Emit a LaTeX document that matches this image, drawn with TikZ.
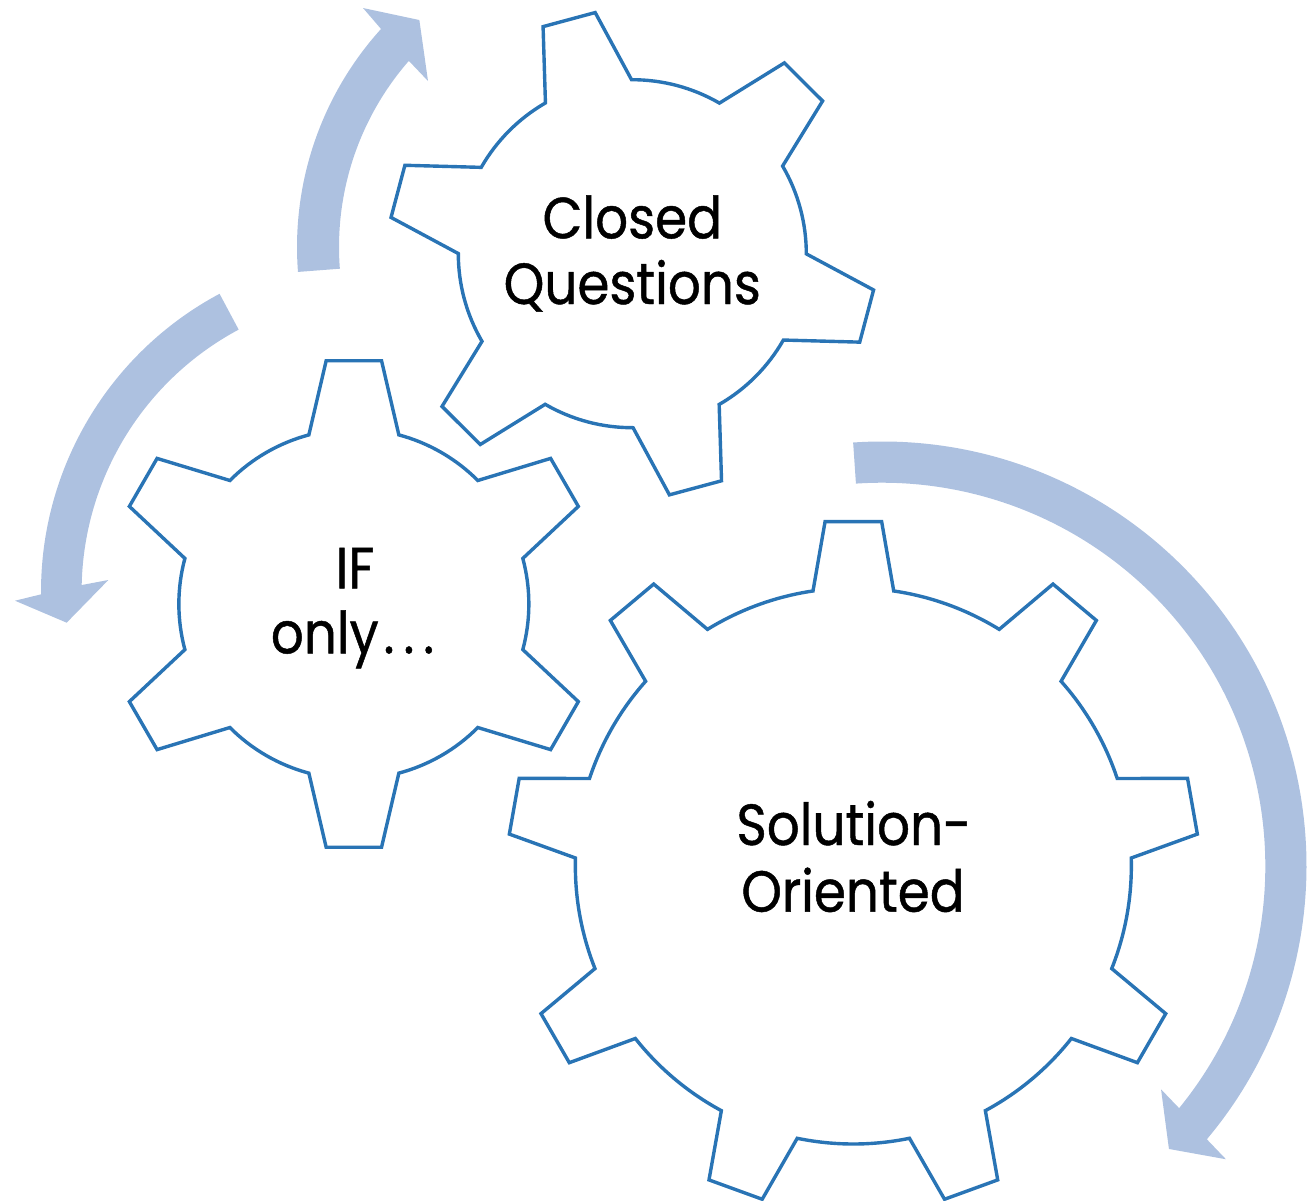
\documentclass[tikz,border=0pt]{standalone}
\usepackage{fontspec}
\newfontfamily\gearfont[FakeStretch=0.89, FakeBold=0.8]{Poppins}
\definecolor{gearblue}{RGB}{41,116,181}
\definecolor{arrowfill}{RGB}{173,193,224}

% cx, cy, teeth, first tooth angle, tip radius, root radius, tip half-angle, root half-angle
\newcommand{\GearOutline}[8]{%
  \begin{scope}[shift={(#1,#2)}]
    \pgfmathsetmacro{\gstep}{360/#3}
    \draw[gearline] ({#4-#8}:#6pt)
      \foreach \k in {1,...,#3} {
        -- ({#4+(\k-1)*\gstep-#7}:#5pt)
        -- ({#4+(\k-1)*\gstep+#7}:#5pt)
        -- ({#4+(\k-1)*\gstep+#8}:#6pt)
        arc[start angle={#4+(\k-1)*\gstep+#8}, delta angle={\gstep-2*#8}, radius=#6pt]
      } -- cycle;
  \end{scope}}

\tikzset{
  gearline/.style={draw=gearblue, line width=3.4pt, fill=white, line join=miter},
  turnarrow/.style={fill=arrowfill, draw=none},
  label/.style={font=\gearfont\fontsize{58}{66}\selectfont, text=black, anchor=base, inner sep=0pt}
}

\begin{document}
\begin{tikzpicture}[x=1pt, y=1pt]
  \path[use as bounding box] (0,0) rectangle (1313,-1200);

  % circular arrows
  \begin{scope}[shift={(622,-247)}]
    \fill[turnarrow] (184.4:325pt) arc[start angle=184.4, end angle=137.86, radius=325pt]
      -- (137.3:352.4pt) -- (131.76:304.3pt) -- (139.45:255.3pt)
      -- (138.87:283pt) arc[start angle=138.87, end angle=184.4, radius=283pt] -- cycle;
  \end{scope}
  \begin{scope}[shift={(378.5,-591.5)}]
    \fill[turnarrow] (118.1:337.5pt) arc[start angle=118.1, end angle=180.48, radius=337.5pt]
      -- (181.45:363.6pt) -- (185.71:313.4pt) -- (177.56:270.4pt)
      -- (178.75:296.9pt) arc[start angle=178.75, end angle=118.1, radius=296.9pt] -- cycle;
  \end{scope}
  \begin{scope}[shift={(882,-866)}]
    \fill[turnarrow] (93.9:424.5pt) arc[start angle=93.9, end angle=-40.07, radius=424.5pt]
      -- (-40.45:452pt) -- (-44.6:403pt) -- (-38.67:357.4pt)
      -- (-39.18:383.3pt) arc[start angle=-39.18, end angle=93.9, radius=383.3pt] -- cycle;
  \end{scope}

  % gears
  \GearOutline{632.3}{-253.7}{6}{105.1}{244}{174}{6.35}{14.85}
  \GearOutline{353.85}{-604}{6}{90}{244.8}{175}{6.5}{14.9}
  \GearOutline{853.35}{-866}{9}{90}{345.5}{278}{4.7}{8.35}

  % labels
  \node[label] (closedA) at (632.3,-238.3) {Closed};
  \node[label] (closedB) at (632.3,-304) {Questions};
  \node[label] (ifA) at (355,-588.3) {IF};
  \node[label] (ifB) at (352.5,-653.3) {only\kern5pt.\kern9pt.\kern9pt.};
  \node[label] (solA) at (854,-845) {Solution-};
  \node[label] (solB) at (853,-911.7) {Oriented};
\end{tikzpicture}
\end{document}
